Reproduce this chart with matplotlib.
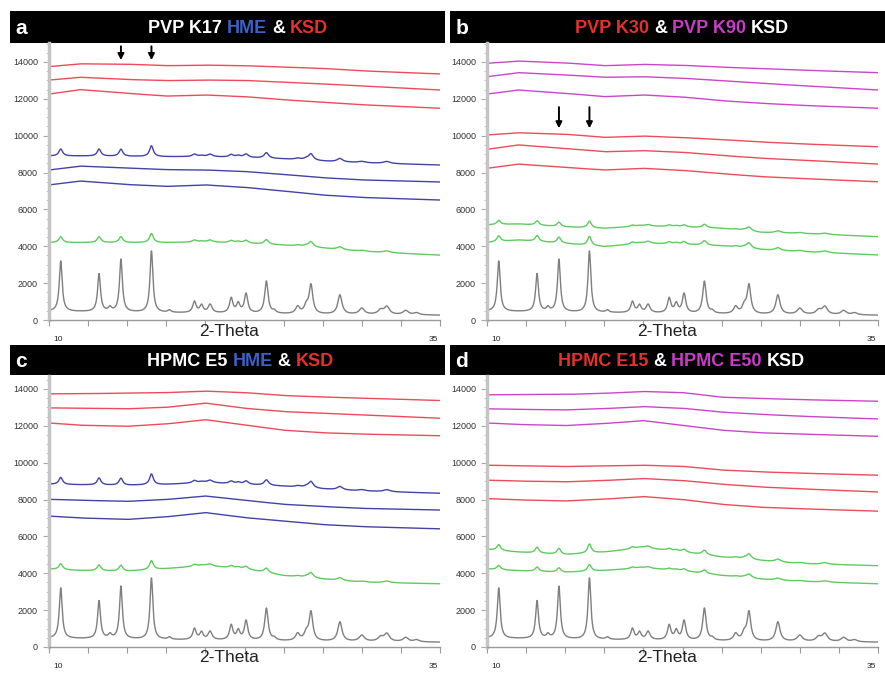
import numpy as np
import matplotlib
matplotlib.use("Agg")
import matplotlib.pyplot as plt

plt.rcParams['font.family'] = ['Liberation Sans', 'DejaVu Sans']

X_ANCHOR = [10, 12, 15, 17.5, 20, 22.5, 25, 27.5, 30, 35]

# crystalline KSD peak table (2-theta, net height, half width)
KSD_POS = [10.75, 13.2, 13.9, 14.6, 16.55, 17.7, 19.3, 19.75, 20.3, 21.65, 22.1, 22.6,
           23.9, 24.4, 25.9, 26.45, 26.75, 28.6, 30.0, 31.2, 31.6, 32.8, 33.5]
KSD_HEIGHT = [2750, 2050, 220, 2850, 3350, 130, 600, 400, 450, 800, 500, 1050,
              1750, 130, 380, 400, 1550, 1050, 330, 230, 420, 230, 110]
KSD_WIDTH = [0.11, 0.11, 0.12, 0.11, 0.11, 0.12, 0.13, 0.13, 0.15, 0.13, 0.13, 0.13,
             0.13, 0.13, 0.16, 0.16, 0.14, 0.16, 0.2, 0.2, 0.2, 0.2, 0.2]
KSD_BASE = [470, 450, 420, 390, 370, 350, 320, 300, 290, 260]

# residual KSD reflections seen in the partly crystalline traces
RESID_HEIGHT = [420, 420, 0, 420, 650, 0, 150, 60, 150, 150, 100, 200,
                330, 0, 80, 80, 380, 200, 80, 0, 120, 0, 0]

# panel a: PVP K17 HME & KSD
a_red1 = [13750, 13900, 13880, 13800, 13830, 13800, 13720, 13650, 13520, 13350]
a_red2 = [13020, 13170, 13050, 12990, 13020, 13000, 12900, 12810, 12700, 12480]
a_red3 = [12260, 12500, 12300, 12150, 12210, 12120, 11950, 11820, 11680, 11490]
a_blue1 = [8900, 8900, 8880, 8860, 8860, 8820, 8740, 8620, 8530, 8410]
a_blue2 = [8140, 8350, 8250, 8160, 8140, 8060, 7900, 7720, 7600, 7490]
a_blue3 = [7330, 7540, 7350, 7250, 7330, 7200, 7000, 6780, 6650, 6510]
a_green = [4200, 4200, 4200, 4200, 4230, 4170, 4060, 3900, 3720, 3520]

# panel b: PVP K30 & PVP K90 KSD
b_mag1 = [13930, 14050, 13950, 13800, 13870, 13820, 13720, 13640, 13560, 13420]
b_mag2 = [13200, 13420, 13300, 13170, 13200, 13120, 12990, 12850, 12720, 12480]
b_mag3 = [12260, 12480, 12300, 12120, 12210, 12100, 11900, 11760, 11650, 11490]
b_red1 = [10040, 10160, 10080, 9910, 9980, 9900, 9790, 9660, 9560, 9400]
b_red2 = [9260, 9500, 9300, 9130, 9190, 9100, 8930, 8780, 8680, 8460]
b_red3 = [8230, 8460, 8280, 8140, 8230, 8120, 7940, 7780, 7680, 7500]
b_green1 = [5160, 5210, 5050, 4975, 5100, 5050, 4975, 4750, 4700, 4520]
b_green2 = [4200, 4340, 4150, 3980, 4160, 4100, 4020, 3820, 3710, 3530]

# panel c: HPMC E5 HME & KSD
c_red1 = [13730, 13740, 13770, 13800, 13880, 13800, 13640, 13560, 13500, 13370]
c_red2 = [12970, 12950, 12920, 13000, 13230, 12950, 12770, 12680, 12590, 12410]
c_red3 = [12150, 12030, 11970, 12100, 12330, 12050, 11760, 11620, 11550, 11460]
c_blue1 = [8830, 8800, 8770, 8820, 8920, 8820, 8720, 8570, 8460, 8340]
c_blue2 = [8010, 7960, 7900, 8000, 8190, 7960, 7740, 7620, 7520, 7430]
c_blue3 = [7100, 7000, 6920, 7060, 7290, 7020, 6830, 6640, 6530, 6410]
c_green = [4230, 4150, 4110, 4250, 4410, 4230, 3870, 3680, 3510, 3430]

# panel d: HPMC E15 & HPMC E50 KSD
d_mag1 = [13680, 13690, 13700, 13760, 13860, 13800, 13550, 13480, 13420, 13330]
d_mag2 = [12920, 12890, 12860, 12930, 13040, 12950, 12740, 12620, 12520, 12370]
d_mag3 = [12150, 12070, 12010, 12120, 12280, 12020, 11760, 11620, 11550, 11430]
d_red1 = [9860, 9830, 9790, 9820, 9860, 9800, 9600, 9500, 9430, 9320]
d_red2 = [9050, 9000, 8960, 9030, 9140, 9030, 8830, 8680, 8580, 8410]
d_red3 = [8050, 7980, 7920, 8020, 8160, 8000, 7740, 7580, 7500, 7370]
d_green1 = [5290, 5150, 5010, 5150, 5380, 5150, 4880, 4690, 4520, 4410]
d_green2 = [4230, 4140, 4050, 4150, 4290, 4130, 3880, 3680, 3560, 3430]

RED = '#ee4a58'
BLUE = '#4242a8'
MAG = '#cc44cc'
GREEN = '#5ccc5c'
GRAY = '#7f7f7f'

tt = np.linspace(10, 35, 1251)


def pattern(base, heights=None, scale=1.0, broad=1.0):
    y = np.interp(tt, X_ANCHOR, base)
    if heights is not None:
        for p, h, w in zip(KSD_POS, heights, KSD_WIDTH):
            if h:
                g = w * broad
                y = y + scale * h * g**2 / ((tt - p)**2 + g**2)
    return y


W, H = 885, 673
fig = plt.figure(figsize=(W / 100, H / 100), dpi=100)


def px_rect(x0, y0, x1, y1):
    return [x0 / W, 1 - y1 / H, (x1 - x0) / W, (y1 - y0) / H]


def title_bar(rect, letter, parts, start):
    bar = fig.add_axes(rect)
    bar.set_facecolor('black')
    bar.set_xticks([])
    bar.set_yticks([])
    for s in bar.spines.values():
        s.set_visible(False)
    bar.text(0.012, 0.45, letter, color='white', fontsize=15, fontweight='bold',
             va='center', ha='left', transform=bar.transAxes)
    prev = None
    for txt, col in parts:
        if prev is None:
            prev = bar.text(start, 0.45, txt, color=col, fontsize=13, fontweight='bold',
                            va='center', ha='left', transform=bar.transAxes)
        else:
            prev = bar.annotate(txt, xy=(1, 0), xycoords=prev, xytext=(3.6, 0),
                                textcoords='offset points', color=col, fontsize=13,
                                fontweight='bold', va='bottom', ha='left')


def setup_axes(rect, ytop):
    ax = fig.add_axes(rect)
    ax.set_xlim(10, 35)
    ax.set_ylim(0, ytop)
    for side in ['top', 'right']:
        ax.spines[side].set_visible(False)
    ax.spines['left'].set_color('#c4c4c4')
    ax.spines['left'].set_linewidth(2.5)
    ax.spines['bottom'].set_color('#9a9a9a')
    ax.spines['bottom'].set_linewidth(1)
    ax.set_xticks(np.arange(10, 35.1, 2.5))
    ax.set_xticklabels([])
    ax.tick_params(axis='x', length=4, color='#9a9a9a')
    ax.set_yticks(np.arange(0, 14001, 2000))
    ax.set_yticks(np.arange(0, ytop, 500), minor=True)
    ax.tick_params(axis='y', which='major', length=4, color='#aaaaaa',
                   labelsize=6.5, labelcolor='#333333', pad=4)
    ax.tick_params(axis='y', which='minor', length=2, color='#bbbbbb')
    ax.text(0.46, -0.04, '2-Theta', transform=ax.transAxes, fontsize=12.5,
            ha='center', va='center', color='#222222')
    ax.text(0.01, -0.072, '10', transform=ax.transAxes, fontsize=6,
            ha='left', va='center', color='#222222')
    ax.text(0.995, -0.072, '35', transform=ax.transAxes, fontsize=6,
            ha='right', va='center', color='#222222')
    return ax


def arrows(ax, xs, y_from, y_to):
    for x in xs:
        ax.annotate('', xy=(x, y_to), xytext=(x, y_from),
                    arrowprops=dict(arrowstyle='-|>', color='black', lw=1.4,
                                    mutation_scale=9),
                    annotation_clip=False)


lw = 1.0

# ---- a ----
title_bar(px_rect(10, 11, 445, 43), 'a',
          [('PVP K17', 'white'), ('HME', '#3a62c8'), ('&', 'white'), ('KSD', '#e8302a')], 0.317)
ax = setup_axes(px_rect(49, 43, 440, 320), 15030)
for s in [a_red1, a_red2, a_red3]:
    ax.plot(tt, pattern(s), color=RED, lw=lw)
ax.plot(tt, pattern(a_blue1, RESID_HEIGHT, 0.9, 1.3), color=BLUE, lw=lw)
ax.plot(tt, pattern(a_blue2), color=BLUE, lw=lw)
ax.plot(tt, pattern(a_blue3), color=BLUE, lw=lw)
ax.plot(tt, pattern(a_green, RESID_HEIGHT, 0.75, 1.3), color=GREEN, lw=lw)
ax.plot(tt, pattern(KSD_BASE, KSD_HEIGHT), color=GRAY, lw=lw)
arrows(ax, [14.6, 16.55], 15000, 13950)

# ---- b ----
title_bar(px_rect(450, 11, 885, 43), 'b',
          [('PVP K30', '#e8302a'), ('&', 'white'), ('PVP K90', '#c83cc8'), ('KSD', 'white')], 0.287)
ax = setup_axes(px_rect(487, 43, 878, 320), 15030)
for s in [b_mag1, b_mag2, b_mag3]:
    ax.plot(tt, pattern(s), color=MAG, lw=lw)
for s in [b_red1, b_red2, b_red3]:
    ax.plot(tt, pattern(s), color=RED, lw=lw)
ax.plot(tt, pattern(b_green1, RESID_HEIGHT, 0.55, 1.3), color=GREEN, lw=lw)
ax.plot(tt, pattern(b_green2, RESID_HEIGHT, 0.75, 1.3), color=GREEN, lw=lw)
ax.plot(tt, pattern(KSD_BASE, KSD_HEIGHT), color=GRAY, lw=lw)
arrows(ax, [14.6, 16.55], 11700, 10250)

# ---- c ----
title_bar(px_rect(10, 345, 445, 375), 'c',
          [('HPMC E5', 'white'), ('HME', '#3a62c8'), ('&', 'white'), ('KSD', '#e8302a')], 0.315)
ax = setup_axes(px_rect(49, 376, 440, 647), 14700)
for s in [c_red1, c_red2, c_red3]:
    ax.plot(tt, pattern(s), color=RED, lw=lw)
ax.plot(tt, pattern(c_blue1, RESID_HEIGHT, 0.9, 1.3), color=BLUE, lw=lw)
ax.plot(tt, pattern(c_blue2), color=BLUE, lw=lw)
ax.plot(tt, pattern(c_blue3), color=BLUE, lw=lw)
ax.plot(tt, pattern(c_green, RESID_HEIGHT, 0.75, 1.3), color=GREEN, lw=lw)
ax.plot(tt, pattern(KSD_BASE, KSD_HEIGHT), color=GRAY, lw=lw)

# ---- d ----
title_bar(px_rect(450, 345, 885, 375), 'd',
          [('HPMC E15', '#e8302a'), ('&', 'white'), ('HPMC E50', '#c83cc8'), ('KSD', 'white')], 0.248)
ax = setup_axes(px_rect(487, 376, 878, 647), 14700)
for s in [d_mag1, d_mag2, d_mag3]:
    ax.plot(tt, pattern(s), color=MAG, lw=lw)
for s in [d_red1, d_red2, d_red3]:
    ax.plot(tt, pattern(s), color=RED, lw=lw)
ax.plot(tt, pattern(d_green1, RESID_HEIGHT, 0.75, 1.3), color=GREEN, lw=lw)
ax.plot(tt, pattern(d_green2, RESID_HEIGHT, 0.55, 1.3), color=GREEN, lw=lw)
ax.plot(tt, pattern(KSD_BASE, KSD_HEIGHT), color=GRAY, lw=lw)

fig.savefig('out.png', dpi=100)
